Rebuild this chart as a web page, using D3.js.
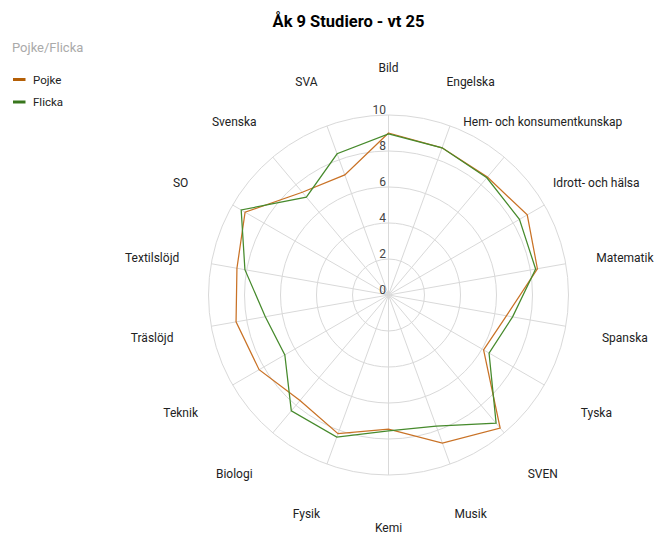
<!DOCTYPE html>
<html>
<head>
<meta charset="utf-8">
<script src="https://cdn.jsdelivr.net/npm/d3@7"></script>
<style>
  html, body { margin: 0; padding: 0; background: #fff; }
  svg { display: block; font-family: Roboto, "Noto Sans", sans-serif; }
</style>
</head>
<body>
<svg id="chart" width="667" height="538"></svg>
<script>
const categories = ["Bild", "Engelska", "Hem- och konsumentkunskap", "Idrott- och hälsa", "Matematik",
  "Spanska", "Tyska", "SVEN", "Musik", "Kemi", "Fysik", "Biologi", "Teknik", "Träslöjd",
  "Textilslöjd", "SO", "Svenska", "SVA"];
const pojke  = [9.0, 8.7, 8.55, 8.9, 8.4, 6.65, 6.1, 9.65, 8.75, 7.45, 8.2, 7.65, 8.3, 8.6, 8.55, 9.2, 7.45, 7.1];
const flicka = [8.95, 8.7, 8.5, 8.4, 8.3, 7.0, 6.45, 9.3, 7.75, 7.55, 8.4, 8.4, 6.65, 6.95, 8.1, 9.45, 7.1, 8.35];
const tickValues = [0, 2, 4, 6, 8, 10];
const seriesNames = ["Pojke", "Flicka"];
const seriesColors = ["#c97226", "#468a2c"];
const legendColors = ["#b45f06", "#38761d"];
const titleText = "Åk 9 Studiero - vt 25";
const subtitleText = "Pojke/Flicka";

const svg = d3.select("#chart");
const cx = 388.5, cy = 295, R = 180;
const r = d3.scaleLinear().domain([0, 10]).range([0, R]);
const ang = d3.scaleLinear().domain([0, categories.length]).range([0, 2 * Math.PI]);

// Title & subtitle
svg.append("text").attr("x", 348.5).attr("y", 27).attr("text-anchor", "middle")
  .attr("font-size", 16.5).attr("font-weight", "bold").attr("fill", "#000").text(titleText);
svg.append("text").attr("x", 12).attr("y", 51.5).attr("font-size", 13).attr("fill", "#aaaaaa").text(subtitleText);

// Legend
const leg = svg.append("g");
seriesNames.forEach((n, i) => {
  const y = 79.5 + i * 22.5;
  leg.append("line").attr("x1", 13).attr("x2", 25.5).attr("y1", y).attr("y2", y)
    .attr("stroke", legendColors[i]).attr("stroke-width", 3);
  leg.append("text").attr("x", 33).attr("y", y + 4).attr("font-size", 11.5).attr("fill", "#222").text(n);
});

const g = svg.append("g").attr("transform", `translate(${cx},${cy})`);

// Rings
g.selectAll("circle.ring").data(tickValues.filter(d => d > 0)).enter().append("circle")
  .attr("class", "ring").attr("r", d => r(d)).attr("fill", "none").attr("stroke", "#d9d9d9").attr("stroke-width", 1);

// Spokes
g.selectAll("line.spoke").data(categories).enter().append("line")
  .attr("x1", 0).attr("y1", 0)
  .attr("x2", (d, i) => r(10) * Math.sin(ang(i)))
  .attr("y2", (d, i) => -r(10) * Math.cos(ang(i)))
  .attr("stroke", "#d9d9d9").attr("stroke-width", 1);

// Series lines
const line = d3.lineRadial().angle((d, i) => ang(i)).radius(d => r(d)).curve(d3.curveLinearClosed);
[pojke, flicka].forEach((s, i) => {
  g.append("path").attr("d", line(s)).attr("fill", "none")
    .attr("stroke", seriesColors[i]).attr("stroke-width", 1.25).attr("stroke-linejoin", "miter");
});

// Tick labels
g.selectAll("text.tick").data(tickValues).enter().append("text")
  .attr("x", -2.5).attr("y", d => -r(d) - 1.5)
  .attr("text-anchor", "end").attr("font-size", 12).attr("fill", "#444").text(d => d);

// Category labels
g.selectAll("text.cat").data(categories).enter().append("text")
  .attr("x", (d, i) => 240 * Math.sin(ang(i)))
  .attr("y", (d, i) => -230 * Math.cos(ang(i)) + 3 + 4.3)
  .attr("text-anchor", "middle").attr("font-size", 12).attr("fill", "#222").text(d => d);
</script>
</body>
</html>
